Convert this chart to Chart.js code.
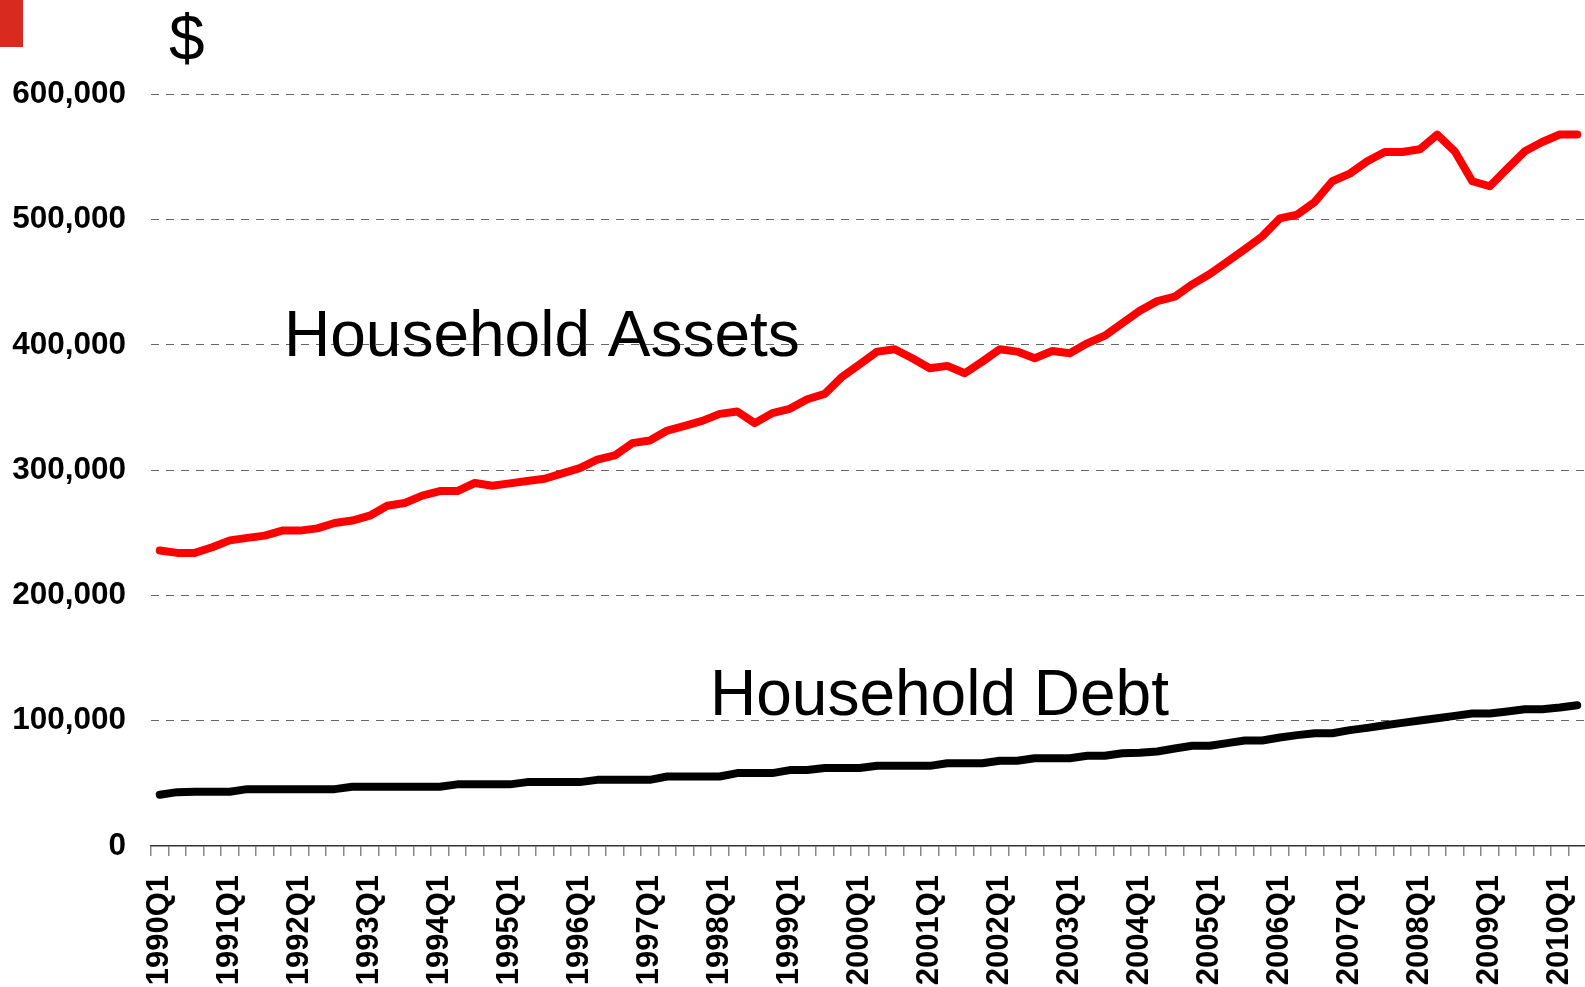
<!DOCTYPE html>
<html><head><meta charset="utf-8">
<script src="https://cdn.jsdelivr.net/npm/chart.js@4/dist/chart.umd.min.js"></script>
<style>
html,body{margin:0;padding:0;background:#fff;overflow:hidden;width:1585px;height:987px}
#wrap{position:absolute;left:0;top:0;width:1590px;height:987px}
#mark{position:absolute;left:0;top:0;width:23px;height:47px;background:#d82a1f}
</style></head><body>
<div id="wrap"><canvas id="c" width="1590" height="987"></canvas></div>
<div id="mark"></div>
<script>
const quarters = [
 "1990Q1","1990Q2","1990Q3","1990Q4","1991Q1","1991Q2","1991Q3","1991Q4",
 "1992Q1","1992Q2","1992Q3","1992Q4","1993Q1","1993Q2","1993Q3","1993Q4",
 "1994Q1","1994Q2","1994Q3","1994Q4","1995Q1","1995Q2","1995Q3","1995Q4",
 "1996Q1","1996Q2","1996Q3","1996Q4","1997Q1","1997Q2","1997Q3","1997Q4",
 "1998Q1","1998Q2","1998Q3","1998Q4","1999Q1","1999Q2","1999Q3","1999Q4",
 "2000Q1","2000Q2","2000Q3","2000Q4","2001Q1","2001Q2","2001Q3","2001Q4",
 "2002Q1","2002Q2","2002Q3","2002Q4","2003Q1","2003Q2","2003Q3","2003Q4",
 "2004Q1","2004Q2","2004Q3","2004Q4","2005Q1","2005Q2","2005Q3","2005Q4",
 "2006Q1","2006Q2","2006Q3","2006Q4","2007Q1","2007Q2","2007Q3","2007Q4",
 "2008Q1","2008Q2","2008Q3","2008Q4","2009Q1","2009Q2","2009Q3","2009Q4",
 "2010Q1","2010Q2"];

const householdAssets = [
 235900,234000,234000,238500,244000,246000,247800,251800,
 251800,253600,257900,259800,263700,271700,273800,279700,
 283400,283400,289800,287600,289500,291400,293200,297500,
 301700,308400,311800,321600,323700,331700,335400,339400,
 345000,346900,337600,345600,349000,356700,361000,374700,
 384600,394700,396600,389400,381400,383300,377400,386700,
 396600,394700,389400,395200,393400,401300,407400,417300,
 427300,435000,438500,448400,456600,466400,476500,486700,
 501000,504100,514200,530700,536800,546600,554000,554000,
 556200,567900,554600,530700,526700,540800,554600,562000,
 568000,568000];

const householdDebt = [
 40900,43000,43300,43300,43300,45400,45400,45400,
 45400,45400,45400,47300,47300,47300,47300,47300,
 47300,49200,49200,49200,49200,51000,51000,51000,
 51000,52800,52800,52800,52800,55500,55500,55500,
 55500,58200,58200,58200,60600,60600,62200,62200,
 62200,64000,64000,64000,64000,66100,66100,66100,
 68000,68000,70100,70100,70100,72000,72000,74000,
 74500,75500,77800,80000,80000,82100,84200,84200,
 86600,88500,90000,90000,92500,94300,96400,98300,
 100200,102000,103900,105800,105800,107400,109200,109200,
 110600,112400];

const yTicks = [0,100000,200000,300000,400000,500000,600000];
const unitLabel = "$";
const assetsLabel = "Household Assets";
const debtLabel = "Household Debt";

const FONT = '"Liberation Sans", Arial, Helvetica, sans-serif';
Chart.defaults.font.family = FONT;

const textPlugin = {
  id: 'texts',
  afterDraw(chart) {
    const ctx = chart.ctx;
    ctx.save();
    ctx.fillStyle = '#000';
    ctx.textAlign = 'left';
    ctx.textBaseline = 'alphabetic';
    ctx.font = '64px ' + FONT;
    ctx.fillText(unitLabel, 169, 60);
    ctx.font = '64px ' + FONT;
    ctx.fillText(assetsLabel, 284, 356);
    ctx.font = '64px ' + FONT;
    ctx.fillText(debtLabel, 710, 715);
    ctx.restore();
  }
};

new Chart(document.getElementById('c'), {
  type: 'line',
  data: {
    labels: quarters,
    datasets: [
      { label: assetsLabel, data: householdAssets, borderColor: '#ff0000', borderWidth: 8,
        pointRadius: 0, tension: 0, borderCapStyle: 'round', borderJoinStyle: 'round', fill: false },
      { label: debtLabel, data: householdDebt, borderColor: '#000000', borderWidth: 8,
        pointRadius: 0, tension: 0, borderCapStyle: 'round', borderJoinStyle: 'round', fill: false }
    ]
  },
  options: {
    responsive: false,
    animation: false,
    events: [],
    layout: { padding: { left: 0, right: 4, top: 0, bottom: 0 } },
    plugins: { legend: { display: false }, tooltip: { enabled: false } },
    scales: {
      x: {
        type: 'category',
        offset: true,
        grid: { display: true, drawOnChartArea: false, drawTicks: true, tickLength: 10,
                offset: true, color: '#888', tickColor: '#888', lineWidth: 1.5 },
        border: { display: true, color: '#333', width: 1.5 },
        ticks: {
          autoSkip: false, maxRotation: 90, minRotation: 90, padding: 19,
          color: '#000', font: { size: 31, weight: 'bold' },
          callback: function(v, i) { const l = quarters[i]; return l.endsWith('Q1') ? l : ''; }
        },
        afterFit(scale) {
          scale.height = 141;
          scale.paddingLeft = 0; scale.paddingRight = 0; scale.paddingTop = 0; scale.paddingBottom = 0;
        }
      },
      y: {
        min: 0, max: 675400,
        afterBuildTicks(scale) { scale.ticks = yTicks.map(v => ({ value: v })); },
        grid: { display: true, drawTicks: false, lineWidth: 1,
                color: (c) => (c.tick && c.tick.value === 0) ? 'rgba(0,0,0,0)' : '#666' },
        border: { display: false, dash: [8, 7] },
        ticks: {
          padding: 25, color: '#000', font: { size: 31.5, weight: 'bold' },
          callback: (v) => v.toLocaleString('en-US')
        },
        afterFit(scale) {
          scale.width = 151;
          scale.paddingLeft = 0; scale.paddingRight = 0; scale.paddingTop = 0; scale.paddingBottom = 0;
        }
      }
    }
  },
  plugins: [textPlugin]
});
</script>
</body></html>
